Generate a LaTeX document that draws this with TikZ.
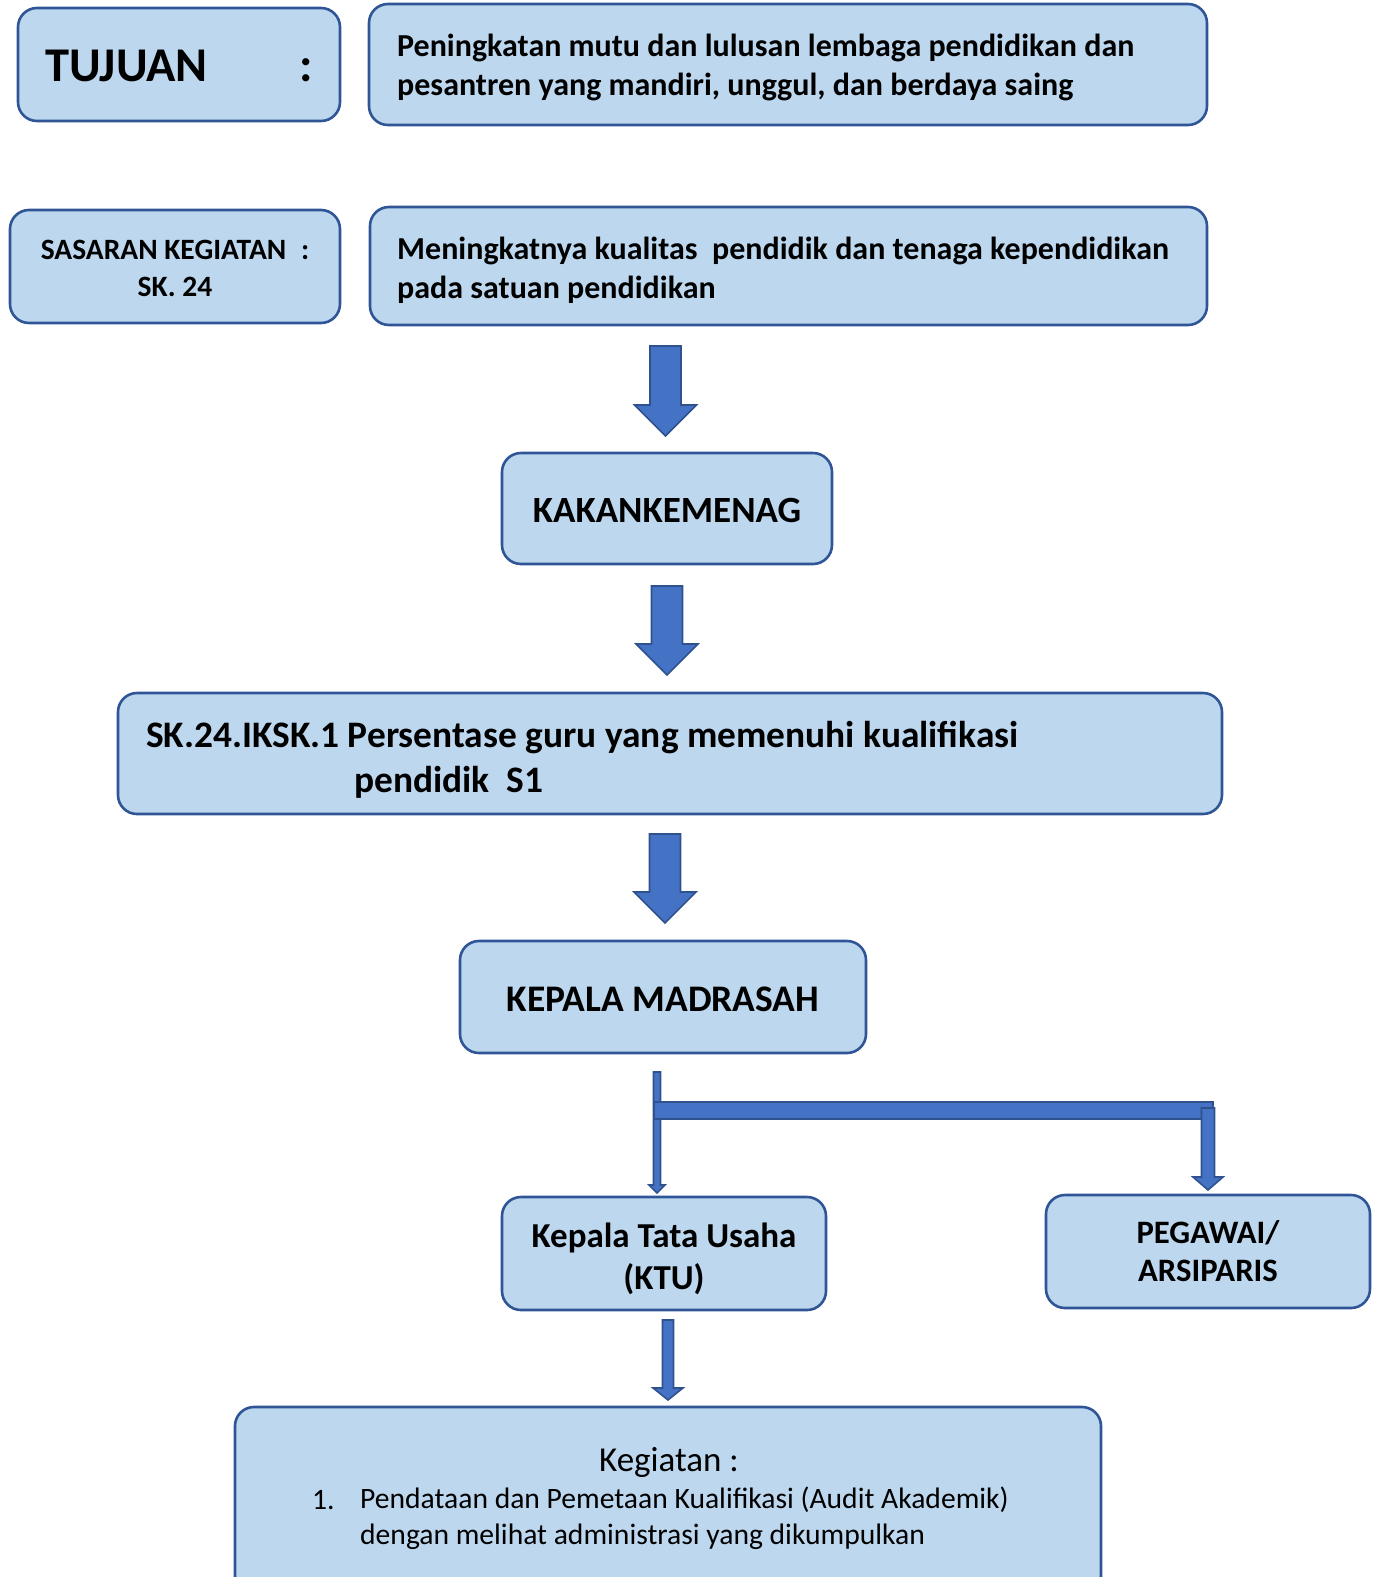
\documentclass[tikz,border=0pt]{standalone}
\usepackage{fontspec}
\setmainfont{Carlito}
\definecolor{boxfill}{HTML}{BDD7EE}
\definecolor{boxline}{HTML}{2F5597}
\definecolor{arrfill}{HTML}{4472C4}
\definecolor{arrline}{HTML}{2F528F}
\newcommand{\fs}[2]{\fontsize{#1}{#2}\selectfont}
% down block arrow: x, top, tip, shaft half, head half, head length
\newcommand{\downblock}[6]{\draw[blk] (#1-#4,#2) -- (#1+#4,#2) -- (#1+#4,#3-#6) -- (#1+#5,#3-#6) -- (#1,#3) -- (#1-#5,#3-#6) -- (#1-#4,#3-#6) -- cycle;}
\tikzset{
  box/.style={draw=boxline, fill=boxfill, line width=2.6pt, rounded corners=19pt, inner sep=0pt},
  blk/.style={draw=arrline, fill=arrfill, line width=1.6pt, line join=miter},
  txt/.style={inner sep=0pt, font=\bfseries},
}
\begin{document}
\begin{tikzpicture}[x=1pt, y=-1pt]
\useasboundingbox (0,0) rectangle (1373,1577);
\clip (0,0) rectangle (1373,1577);

\node[box, minimum width=322, minimum height=113] (tujuan box) at (179,64.5) {};
\node[txt, text width=268, align=flush left, font=\fs{48.5}{56}\bfseries] (tujuan) at (179,65.5) {TUJUAN\hfill:\hspace*{10pt}};
\node[box, minimum width=838, minimum height=121] (tujuantext box) at (788,64.5) {};
\node[txt, anchor=west, align=flush left, font=\fs{32}{39}\bfseries] (tujuantext) at (397,67.5) {Peningkatan mutu dan lulusan lembaga pendidikan dan\\pesantren yang mandiri, unggul, dan berdaya saing};

\node[box, minimum width=330, minimum height=113] (sasaran box) at (175,266.5) {};
\node[txt, align=flush center, font=\fs{29.5}{37}\bfseries] (sasaran) at (175,268.5) {SASARAN KEGIATAN\enspace:\\SK. 24};
\node[box, minimum width=837, minimum height=118] (sasarantext box) at (788.5,266) {};
\node[txt, anchor=west, align=flush left, font=\fs{32}{39}\bfseries] (sasarantext) at (397,270) {Meningkatnya kualitas~ pendidik dan tenaga kependidikan\\pada satuan pendidikan};

\downblock{665.5}{346}{436}{15.5}{31}{31}
\node[box, minimum width=330, minimum height=111] (kakan box) at (667,508.5) {};
\node[txt, font=\fs{37}{44}\bfseries] (kakan) at (667,510.5) {KAKANKEMENAG};

\downblock{667}{586}{675}{15.5}{31}{31}
\node[box, minimum width=1104, minimum height=121] (iksk box) at (670,753.5) {};
\node[txt, anchor=west, align=flush left, font=\fs{37.4}{45}\bfseries] (iksk) at (146,760) {SK.24.IKSK.1 Persentase guru yang memenuhi kualifikasi\\\hspace*{208pt}pendidik~ S1};

\downblock{665}{834}{923}{15.5}{31}{31}
\node[box, minimum width=406, minimum height=112] (kamad box) at (663,997) {};
\node[txt, font=\fs{37.5}{44}\bfseries] (kamad) at (663,999) {KEPALA MADRASAH};

% cabang ke KTU dan pegawai
\downblock{657}{1072}{1193}{3.5}{8}{8}
\draw[blk] (654,1102) rectangle (1213,1119);
\downblock{1208}{1108}{1190}{6.5}{15}{13}

\node[box, minimum width=324, minimum height=113] (ktu box) at (664,1253.5) {};
\node[txt, align=flush center, font=\fs{35}{42}\bfseries] (ktu) at (664,1258.5) {Kepala Tata Usaha\\(KTU)};
\node[box, minimum width=324, minimum height=113] (pegawai box) at (1208,1251.5) {};
\node[txt, align=flush center, font=\fs{32.7}{38}\bfseries] (pegawai) at (1208,1251.5) {PEGAWAI/\\ARSIPARIS};

\downblock{668}{1320}{1400}{5.5}{15}{12}
\node[box, minimum width=866, minimum height=213] (kegiatan box) at (668,1513.5) {};
\node[font=\fs{35}{42}] (kegiatan) at (669,1462) {Kegiatan :};
\node[anchor=base west, inner sep=0pt, font=\fs{29.6}{36}] (num1) at (312,1509) {1.};
\node[anchor=north west, inner sep=0pt, align=flush left, font=\fs{29.6}{36}] (item1) at (360,1487) {Pendataan dan Pemetaan Kualifikasi (Audit Akademik)\\dengan melihat administrasi yang dikumpulkan};
\end{tikzpicture}
\end{document}
